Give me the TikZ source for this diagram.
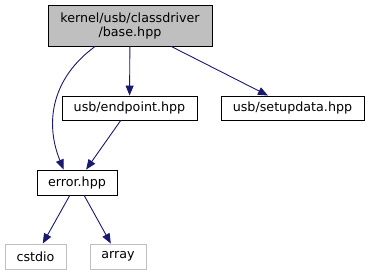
\documentclass[tikz,border=0pt]{standalone}
\usepackage{fontspec}
\setmainfont{DejaVu Sans}
\usetikzlibrary{arrows.meta,positioning}
\definecolor{edgeblue}{HTML}{191970}
\definecolor{headgray}{HTML}{BFBFBF}
\definecolor{sysgray}{HTML}{BFBFBF}

\begin{document}
\begin{tikzpicture}[x=1pt,y=-1pt,
 file/.style={draw=black,line width=0.9pt,align=center,inner sep=2pt,
 font=\fontsize{12.7}{14}\selectfont,minimum height=24pt},
 sysfile/.style={file,draw=sysgray},
 flow/.style={-{Triangle[length=10pt,width=8pt]},line width=0.9pt,draw=edgeblue}]
\useasboundingbox (0,0) rectangle (370,276);
\node[file,fill=headgray,minimum width=164pt,minimum height=41pt] (base) at (130,25.5)
 {kernel/usb/classdriver\\/base.hpp};
\node[file,minimum width=135pt] (endpoint) at (129.5,108) {usb/endpoint.hpp};
\node[file,minimum width=143pt] (setup) at (292.5,108) {usb/setupdata.hpp};
\node[file,minimum width=80pt,minimum height=25pt] (error) at (77,182.5) {error.hpp};
\node[sysfile,minimum width=61pt,minimum height=25pt] (cstdio) at (35.5,256.5) {cstdio};
\node[sysfile,minimum width=56pt,minimum height=25pt] (array) at (118,256.5) {array};
\draw[flow] (base.211) to[out=216,in=112,looseness=1.05] (error.136);
\draw[flow] (base) -- (endpoint);
\draw[flow] (base) -- (setup);
\draw[flow] (endpoint) -- (error);
\draw[flow] (error) -- (cstdio);
\draw[flow] (error) -- (array);
\end{tikzpicture}
\end{document}
